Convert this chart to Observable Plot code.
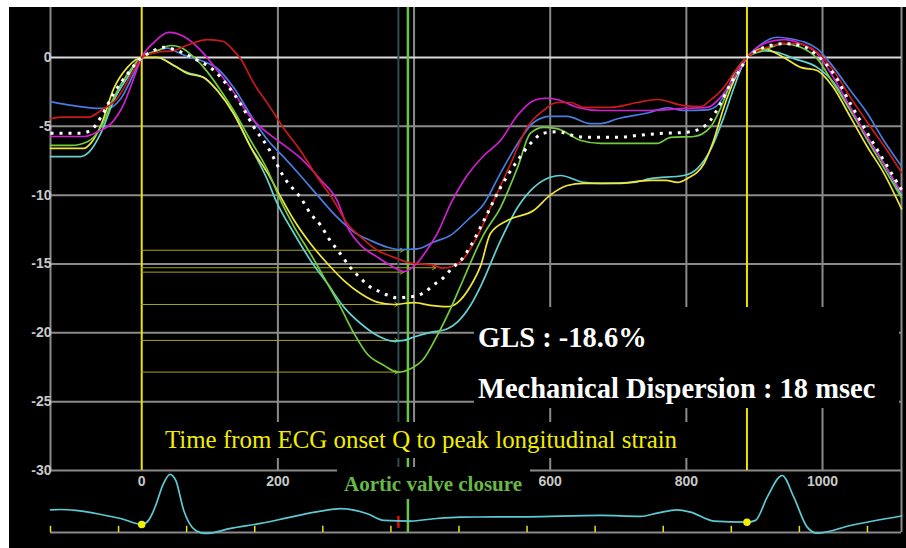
<!DOCTYPE html>
<html><head><meta charset="utf-8">
<script src="https://cdn.jsdelivr.net/npm/d3@7"></script>
<script src="https://cdn.jsdelivr.net/npm/@observablehq/plot@0.6"></script>
<style>
html,body{margin:0;padding:0;background:#fff;}
#wrap{position:relative;width:906px;height:548px;overflow:hidden;}
#chart{position:absolute;left:9px;top:7px;}
#notes{position:absolute;left:0;top:0;}
</style></head><body>
<div id="wrap"><div id="chart"></div><svg id="notes" width="906" height="548"></svg></div>
<script>
// ---- data (time in ms, longitudinal strain in %) ----
const yTicks = [0, -5, -10, -15, -20, -25, -30];
const xGrid = [200, 400, 600, 800, 1000];
const xTickLabels = [0, 200, 600, 800, 1000];
const qOnsets = [0, 889];
const peakLineT = 377;   // dark marker line
const avcT = 391;        // aortic valve closure

const blue = [[-134,-3.2],[-100,-3.5],[-60,-3.7],[-50,-3.7],[-31,-3.0],[-12,-1.2],[0,0],[23,0.5],[38,0.68],[52,0.4],[67,0.07],[87,-0.22],[111,-0.8],[135,-2.18],[165,-4.58],[185,-6.0],[209,-7.26],[233,-8.57],[258,-10.0],[287,-11.6],[312,-12.69],[336,-13.29],[361,-13.78],[380,-13.95],[405,-13.9],[429,-13.4],[454,-12.9],[478,-11.84],[503,-10.6],[527,-8.4],[552,-6.26],[576,-4.7],[600,-4.28],[625,-4.28],[659,-4.8],[674,-4.8],[699,-4.45],[747,-3.98],[772,-3.65],[796,-3.85],[831,-3.8],[845,-3.5],[860,-2.4],[875,-1.2],[889,0],[904,0.74],[933,1.47],[953,1.36],[992,0.64],[1016,-0.7],[1041,-2.4],[1066,-4.07],[1090,-6.03],[1116,-7.9]];
const red = [[-134,-4.45],[-119,-4.33],[-78,-4.33],[-60,-3.85],[-35,-2.9],[-12,-0.94],[0,0],[23,0.38],[47,0.5],[72,1.0],[97,1.3],[119,1.18],[135,0.5],[145,-0.08],[165,-1.9],[185,-3.35],[209,-5.17],[233,-6.75],[258,-8.7],[282,-10.4],[302,-12.08],[322,-13.05],[346,-14.0],[370,-14.5],[390,-14.87],[429,-15.1],[442,-15.3],[458,-15.15],[473,-14.6],[493,-13.0],[517,-10.4],[542,-7.7],[566,-5.08],[590,-3.85],[610,-3.27],[630,-3.27],[649,-3.63],[689,-3.63],[728,-3.27],[757,-3.05],[796,-3.49],[821,-3.56],[835,-3.12],[855,-2.18],[870,-1.09],[889,0],[919,0.74],[943,1.02],[963,1.0],[992,0.38],[1016,-0.94],[1041,-2.9],[1071,-5.08],[1095,-6.75],[1116,-8.35]];
const magenta = [[-134,-5.74],[-85,-5.74],[-65,-5.4],[-45,-4.8],[-26,-3.35],[-12,-1.55],[0,0],[18,1.1],[40,1.82],[62,1.52],[87,0.5],[111,-0.94],[135,-2.5],[160,-4.33],[175,-5.08],[199,-6.0],[233,-7.3],[263,-8.9],[287,-10.38],[302,-12.3],[322,-13.65],[346,-14.5],[370,-15.23],[385,-15.55],[405,-14.9],[420,-13.9],[435,-12.7],[454,-10.6],[473,-8.93],[503,-7.1],[527,-6.03],[552,-4.2],[576,-3.12],[593,-2.96],[610,-3.05],[640,-3.63],[674,-3.85],[747,-3.85],[796,-3.7],[831,-3.63],[850,-2.9],[869,-1.55],[889,0],[919,1.1],[943,1.3],[968,1.0],[992,0.29],[1016,-1.45],[1041,-3.63],[1066,-5.8],[1090,-7.7],[1116,-9.8]];
const green = [[-134,-6.39],[-104,-6.39],[-79,-6.1],[-60,-5.08],[-41,-2.9],[-21,-1.2],[0,0],[23,0.5],[43,0.87],[57,0.74],[77,0],[97,-1.08],[116,-2.4],[135,-3.85],[160,-6.03],[185,-8.2],[204,-10.38],[224,-12.32],[248,-14.26],[273,-16.44],[292,-18.13],[312,-20.06],[331,-21.52],[356,-22.37],[376,-22.85],[395,-22.6],[414,-21.9],[434,-20.2],[454,-18.2],[473,-16.05],[493,-13.8],[503,-12.8],[527,-10.9],[552,-8.0],[571,-5.5],[590,-5.08],[610,-5.17],[645,-6.03],[674,-6.24],[757,-6.24],[777,-5.8],[811,-5.74],[835,-5.08],[855,-3.12],[870,-1.2],[889,0],[913,0.5],[943,1.0],[968,0.74],[992,-0.08],[1016,-1.9],[1041,-3.85],[1066,-6.0],[1090,-8.0],[1116,-10.2]];
const yellow = [[-134,-6.6],[-85,-6.6],[-75,-6.24],[-60,-4.94],[-41,-2.25],[-21,-0.72],[0,0],[9,0],[23,0],[47,-0.58],[67,-1.16],[91,-1.45],[111,-2.4],[135,-4.07],[160,-6.5],[185,-8.4],[207,-10.38],[224,-11.84],[248,-13.53],[273,-14.98],[297,-16.2],[322,-17.16],[346,-17.77],[370,-17.94],[400,-17.8],[424,-18.0],[449,-18.1],[464,-17.8],[483,-16.6],[498,-15.1],[512,-12.8],[537,-11.84],[576,-11.1],[600,-10.0],[625,-9.3],[649,-9.15],[699,-9.15],[747,-8.93],[770,-8.93],[787,-9.07],[801,-8.8],[826,-7.7],[840,-6.03],[855,-3.63],[870,-1.67],[889,0],[913,0.64],[943,0],[968,-0.72],[992,-0.94],[1016,-2.18],[1041,-4.33],[1066,-6.5],[1090,-8.4],[1116,-11.0]];
const cyan = [[-134,-7.2],[-90,-7.2],[-78,-6.9],[-60,-5.5],[-41,-3.12],[-21,-1.45],[0,0],[9,0],[23,0],[47,-0.58],[67,-1.09],[91,-1.45],[111,-2.4],[135,-4.07],[160,-6.5],[185,-8.93],[197,-10.38],[224,-12.8],[248,-14.74],[273,-16.44],[297,-18.13],[322,-19.34],[346,-20.19],[370,-20.6],[385,-20.55],[400,-20.3],[424,-19.97],[449,-19.7],[464,-19.2],[483,-18.0],[498,-16.6],[527,-13.3],[552,-10.9],[576,-9.44],[600,-8.7],[615,-8.57],[649,-9.07],[674,-9.15],[723,-9.07],[747,-8.8],[796,-8.57],[816,-8.07],[835,-6.75],[855,-4.33],[870,-2.18],[889,0],[909,0.5],[933,0.38],[958,-0.08],[992,-0.72],[1016,-1.8],[1041,-3.85],[1066,-5.8],[1090,-7.7],[1116,-10.0]];
const average = [[-134,-5.5],[-90,-5.5],[-75,-5.3],[-60,-4.33],[-41,-2.6],[-21,-1.2],[0,0],[13,0.38],[32,0.74],[52,0.5],[77,-0.08],[106,-0.94],[126,-2.03],[145,-3.35],[165,-5.08],[185,-6.5],[209,-8.7],[236,-10.38],[248,-11.35],[263,-12.2],[275,-13.17],[290,-14.14],[304,-15.1],[322,-16.07],[336,-16.68],[348,-16.97],[362,-17.28],[374,-17.45],[389,-17.4],[404,-17.3],[417,-17.0],[429,-16.5],[443,-16.0],[456,-15.3],[471,-14.6],[483,-13.7],[503,-11.8],[527,-9.44],[552,-7.48],[571,-6.25],[590,-5.5],[610,-5.4],[640,-5.74],[659,-5.8],[699,-5.8],[728,-5.66],[767,-5.5],[796,-5.45],[821,-5.17],[835,-4.58],[850,-3.35],[865,-1.9],[880,-0.8],[889,0],[904,0.5],[923,0.87],[943,1.0],[968,0.87],[992,0.15],[1016,-1.16],[1041,-3.35],[1066,-5.5],[1090,-7.48],[1116,-9.6]];

// peak strain markers: value, time of arrow tip
const peakValues = [-14.0, -15.27, -15.59, -17.94, -20.55, -22.85];
const peakTimes = [385, 432, 385, 377, 377, 377];

// ECG trace (drawn in the strip under -30)
const ecg = [[-134,-32.85],[-119,-32.83],[-97,-32.9],[-60,-33.19],[-31,-33.48],[0,-33.91],[10,-33.62],[20.6,-32.53],[30.8,-31.08],[41.6,-30.28],[50,-30.72],[61.7,-32.9],[79.3,-34.35],[94,-34.57],[130.7,-34.2],[174.7,-33.84],[218.8,-33.38],[262.8,-32.95],[292.2,-32.77],[331.4,-33.14],[355.4,-33.62],[395,-33.67],[428.8,-33.5],[468.4,-33.38],[566.4,-33.36],[674,-33.26],[732.7,-33.33],[757.3,-33.09],[786.6,-32.85],[806.2,-33.02],[840.4,-33.67],[889.4,-33.75],[901.6,-33.62],[918.8,-31.93],[940.8,-30.36],[957.8,-31.93],[977.5,-34.11],[992.2,-34.55],[1041,-33.99],[1116,-33.3]];
const ecgQ = [[0,-33.91],[889,-33.75]];
const ecgTicks = [-134,-34,66,166,266,366,466,566,666,766,866,966,1066];

const glsText = "GLS : -18.6%";
const mdText = "Mechanical Dispersion : 18 msec";
const timeText = "Time from ECG onset Q to peak longitudinal strain";
const avcText = "Aortic valve closure";

// ---- chart ----
const X0 = -134, X1 = 1116, YTOP = 3.63, YBOT = -34.5;
const gridC = "#8a8a8a";
const series = [
  {pts: blue, color: "#4a7be0"},
  {pts: cyan, color: "#62d2d2"},
  {pts: yellow, color: "#f0e63a"},
  {pts: green, color: "#74cc3a"},
  {pts: magenta, color: "#d21fd2"},
  {pts: red, color: "#cc1a1a"}
];
const px = d => d[0], py = d => d[1];

const plot = Plot.plot({
  width: 897, height: 541,
  marginLeft: 41, marginRight: 5, marginTop: 0, marginBottom: 16,
  x: {domain: [X0, X1], axis: null},
  y: {domain: [YBOT, YTOP], axis: null},
  style: {background: "black", overflow: "visible"},
  marks: [
    // grid
    Plot.ruleY(yTicks.filter(d => d !== 0), {y: d => d, x1: () => X0, x2: () => X1, stroke: gridC, strokeWidth: 2}),
    Plot.ruleX(xGrid, {x: d => d, y1: () => -30, y2: () => YTOP, stroke: gridC, strokeWidth: 2}),
    Plot.ruleX([X0], {x: d => d, y1: () => -30, y2: () => YTOP, stroke: gridC, strokeWidth: 2}),
    Plot.ruleX([X1], {x: d => d, y1: () => YBOT, y2: () => YTOP, stroke: gridC, strokeWidth: 2}),
    Plot.ruleY([YBOT], {y: d => d, x1: () => X0, x2: () => X1, stroke: gridC, strokeWidth: 2}),
    Plot.ruleY([0], {y: d => d, x1: () => X0, x2: () => X1, stroke: "#dcdcdc", strokeWidth: 2}),
    // event lines
    Plot.ruleX(qOnsets, {x: d => d, y1: () => -30, y2: () => YTOP, stroke: "#ece400", strokeWidth: 2}),
    Plot.ruleX([peakLineT], {x: d => d, y1: () => -30, y2: () => YTOP, stroke: "#2c4b4e", strokeWidth: 2}),
    Plot.ruleX([avcT], {x: d => d, y1: () => -30, y2: () => YTOP, stroke: "#6cc24a", strokeWidth: 2.5}),
    // peak arrows
    Plot.arrow(peakValues, {x1: () => 0, y1: d => d, x2: (d, i) => peakTimes[i], y2: d => d, stroke: "#a4a414", strokeWidth: 1, headLength: 6}),
    // strain curves
    ...series.map(s => Plot.line(s.pts, {x: px, y: py, stroke: s.color, strokeWidth: 1.7, curve: "monotone-x"})),
    Plot.line(average, {x: px, y: py, stroke: "white", strokeWidth: 3, strokeDasharray: "3 6", strokeLinecap: "butt", curve: "monotone-x"}),
    // ECG strip
    Plot.ruleX(ecgTicks, {x: d => d, y1: () => YBOT, y2: () => YBOT + 0.45, stroke: "#e6e020", strokeWidth: 1.5}),
    Plot.ruleX([avcT], {x: d => d, y1: () => YBOT, y2: () => -32.1, stroke: "#6cc24a", strokeWidth: 2.5}),
    Plot.ruleX([peakLineT], {x: d => d, y1: () => -34.2, y2: () => -33.33, stroke: "#e01010", strokeWidth: 2.5}),
    Plot.line(ecg, {x: px, y: py, stroke: "#5ccad2", strokeWidth: 1.7, curve: "monotone-x"}),
    Plot.dot(ecgQ, {x: px, y: py, r: 3, fill: "#f0f000", stroke: "#f0f000"}),
    // tick labels
    Plot.text(yTicks, {x: () => X0, y: d => d, text: d => String(d), textAnchor: "end", dx: 1, fill: "#c8c8c8", fontSize: 14, fontWeight: "bold", fontFamily: "Liberation Sans, Arial, sans-serif"}),
    Plot.text(xTickLabels, {x: d => d, y: () => -30, text: d => String(d), dy: 11, fill: "#c8c8c8", fontSize: 14, fontWeight: "bold", fontFamily: "Liberation Sans, Arial, sans-serif"})
  ]
});
document.getElementById("chart").appendChild(plot);

// ---- annotation boxes (text with black backing, as in the original) ----
const notes = d3.select("#notes");
const serif = "'Liberation Serif', 'Times New Roman', serif";
function box(x, y, w, h) { notes.append("rect").attr("x", x).attr("y", y).attr("width", w).attr("height", h).attr("fill", "black"); }
function label(x, y, t, size, color, weight) {
  notes.append("text").attr("x", x).attr("y", y).text(t)
    .attr("font-family", serif).attr("font-size", size).attr("font-weight", weight).attr("fill", color);
}
box(474, 307, 425, 101);
label(478, 346.7, glsText, 28.5, "white", "bold");
label(478, 398.3, mdText, 28.5, "white", "bold");
box(158, 422, 540, 36);
label(165, 448.3, timeText, 24.9, "#f2ee00", "normal");
box(337, 467, 193, 32);
label(344, 490.7, avcText, 21, "#68b848", "bold");
</script></body></html>
